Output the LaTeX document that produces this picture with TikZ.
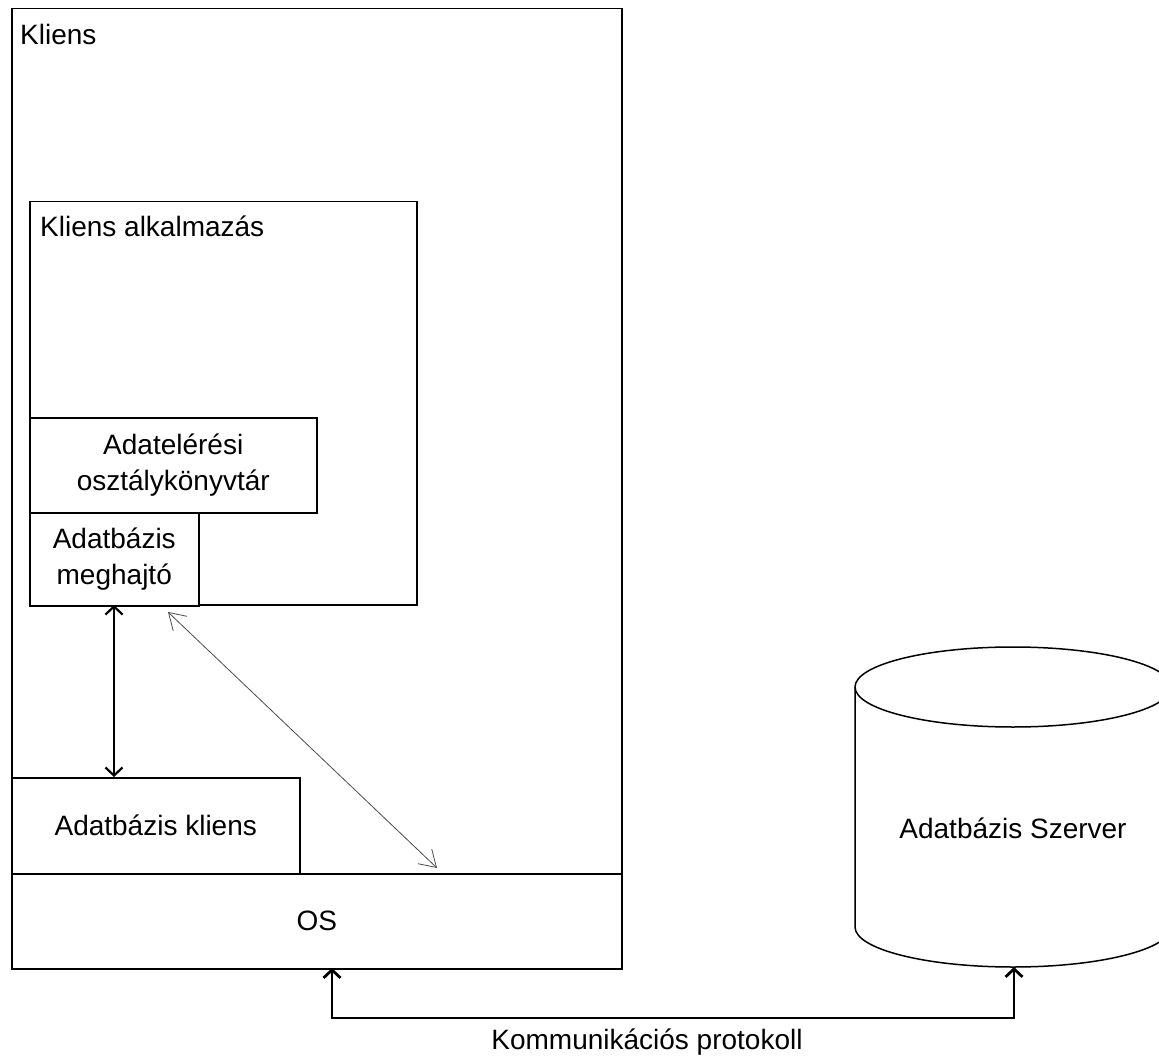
\documentclass[tikz,border=0pt]{standalone}
\usepackage{fontspec}
\setmainfont{Liberation Sans}
\usetikzlibrary{arrows.meta}
\begin{document}
\begin{tikzpicture}[x=1pt,y=-1pt,
  every node/.style={font=\fontsize{28}{36}\selectfont},
  boxnode/.style={draw, line width=1.5pt, fill=white, inner sep=0pt,
    anchor=north west, align=center},
  lbl/.style={anchor=north west, inner sep=0pt},
  thickarrow/.style={line width=2.2pt, {Straight Barb[length=8pt,width=17pt]}-{Straight Barb[length=8pt,width=17pt]}},
  thinarrow/.style={line width=0.8pt, draw=black!70, {Straight Barb[length=16pt,width=20pt]}-{Straight Barb[length=16pt,width=20pt]}}
]
\useasboundingbox (0,0) rectangle (1159,1059);

% client machine
\node[boxnode, minimum width=610pt, minimum height=960pt] (kliens) at (11,8) {};
\node[lbl] (kliensl) at (20,24) {Kliens};

% client application
\node[boxnode, minimum width=387pt, minimum height=403pt] (app) at (29,201) {};
\node[lbl] (appl) at (40,216) {Kliens alkalmazás};

\node[boxnode, minimum width=287pt, minimum height=95pt] (lib) at (29,417)
  {Adatelérési\\osztálykönyvtár};
\node[boxnode, minimum width=169pt, minimum height=93pt] (drv) at (29,512)
  {Adatbázis\\meghajtó};

% database client and OS
\node[boxnode, minimum width=288pt, minimum height=96pt] (dbc) at (11,777)
  {Adatbázis kliens};
\node[boxnode, minimum width=610pt, minimum height=95pt] (os) at (11,873) {OS};

% database server cylinder
\draw[line width=1.5pt, fill=white]
  (855,687) -- (855,927) arc[start angle=180, end angle=0, x radius=158, y radius=40]
  -- (1171,687) arc[start angle=0, end angle=-180, x radius=158, y radius=40] -- cycle;
\draw[line width=1.5pt] (855,687) arc[start angle=180, end angle=0, x radius=158, y radius=40];
\node (srv) at (1013,828) {Adatbázis Szerver};
\coordinate (srvbot) at (1014,967);

% connectors
\coordinate (drvbot) at (114,605);
\coordinate (dbctop) at (114,777);
\draw[thickarrow] (drvbot) -- (dbctop);

\coordinate (drvcorner) at (168,612);
\coordinate (ostop) at (437,868);
\draw[thinarrow] (drvcorner) -- (ostop);

\coordinate (osbot) at (332,968);
\draw[thickarrow, line width=2.8pt] (osbot) -- (332,1018) -- (1014,1018) -- (srvbot);
\node (proto) at (647,1042) {Kommunikációs protokoll};
\end{tikzpicture}
\end{document}
